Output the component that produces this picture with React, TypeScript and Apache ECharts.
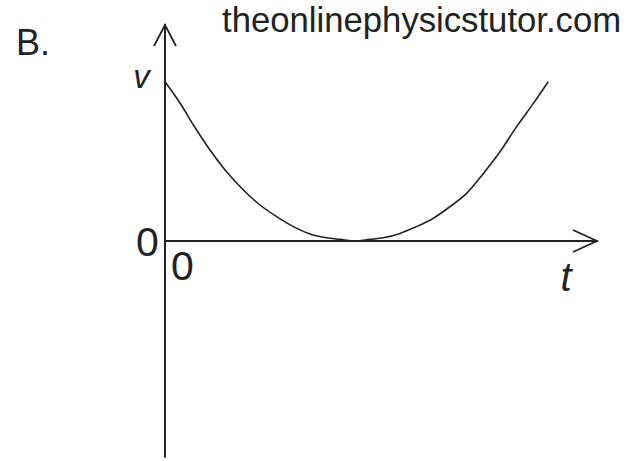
import React, { useEffect, useRef } from "react";
import * as echarts from "echarts";

// Curve samples (t in arbitrary units, v in arbitrary units)
const tValues = [0, 0.375, 0.71, 1.125, 1.54, 1.96, 2.375, 2.79, 3.21, 3.625, 4.04, 4.375, 4.75, 5.125, 5.46, 5.875, 6.29, 6.71, 7.125, 7.54, 7.96, 8.375, 8.79, 9.21, 9.58];
const vValues = [3.98, 3.45, 2.9, 2.275, 1.73, 1.275, 0.9, 0.61, 0.36, 0.175, 0.08, 0.04, 0.0, 0.04, 0.08, 0.19, 0.36, 0.57, 0.86, 1.19, 1.69, 2.23, 2.86, 3.44, 3.98];

const xRange = [0, 10.8];
const yRange = [-5.4, 5.4];

const titleLabel = "B.";
const siteLabel = "theonlinephysicstutor.com";
const yName = "v";
const xName = "t";
const yZeroLabel = "0";
const xZeroLabel = "0";

const INK = "#222222";
const FONT = '"Liberation Sans", Arial, sans-serif';

export default function App() {
  const ref = useRef<HTMLDivElement>(null);

  useEffect(() => {
    if (!ref.current) return;
    const chart = echarts.init(ref.current, undefined, { renderer: "svg" });
    chart.setOption({
      animation: false,
      grid: { left: 165, right: 40, top: 25, bottom: 4, containLabel: false },
      xAxis: {
        type: "value",
        min: xRange[0],
        max: xRange[1],
        axisLine: { show: true, onZero: true, lineStyle: { color: INK, width: 2 } },
        axisTick: { show: false },
        axisLabel: { show: false },
        splitLine: { show: false },
      },
      yAxis: {
        type: "value",
        min: yRange[0],
        max: yRange[1],
        axisLine: { show: true, onZero: true, lineStyle: { color: INK, width: 2 } },
        axisTick: { show: false },
        axisLabel: { show: false },
        splitLine: { show: false },
      },
      series: [
        {
          type: "line",
          data: tValues.map((t, i) => [t, vValues[i]]),
          smooth: 0.35,
          showSymbol: false,
          lineStyle: { color: INK, width: 1.6 },
        },
      ],
    });

    const yTip = chart.convertToPixel({ gridIndex: 0 }, [0, yRange[1]]) as number[];
    const xTip = chart.convertToPixel({ gridIndex: 0 }, [xRange[1], 0]) as number[];
    const origin = chart.convertToPixel({ gridIndex: 0 }, [0, 0]) as number[];

    const txt = (text: string, x: number, y: number, size: number, align: string, italic = false) => ({
      type: "text",
      x,
      y,
      style: {
        text,
        fill: INK,
        fontSize: size,
        fontFamily: FONT,
        fontStyle: italic ? "italic" : "normal",
        textAlign: align,
        textVerticalAlign: "middle",
      },
    });

    chart.setOption({
      graphic: [
        {
          type: "polyline",
          shape: { points: [[yTip[0] - 11, yTip[1] + 21], [yTip[0], yTip[1]], [yTip[0] + 11, yTip[1] + 21]] },
          style: { stroke: INK, lineWidth: 1.8, fill: null },
        },
        {
          type: "polyline",
          shape: { points: [[xTip[0] - 24, xTip[1] - 11], [xTip[0], xTip[1]], [xTip[0] - 24, xTip[1] + 11]] },
          style: { stroke: INK, lineWidth: 1.8, fill: null },
        },
        txt(titleLabel, 16, 42, 36, "left"),
        txt(siteLabel, 222, 20, 34.7, "left"),
        txt(yName, 141.5, 76, 33, "center", true),
        txt(yZeroLabel, origin[0] - 17.5, origin[1] + 0.5, 41, "center"),
        txt(xZeroLabel, origin[0] + 17.5, origin[1] + 25, 41, "center"),
        txt(xName, 566, 277, 40, "center", true),
      ],
    });

    return () => chart.dispose();
  }, []);

  return (
    <div
      ref={ref}
      style={{ position: "fixed", left: 0, top: 0, width: 637, height: 461, background: "#ffffff" }}
    />
  );
}
